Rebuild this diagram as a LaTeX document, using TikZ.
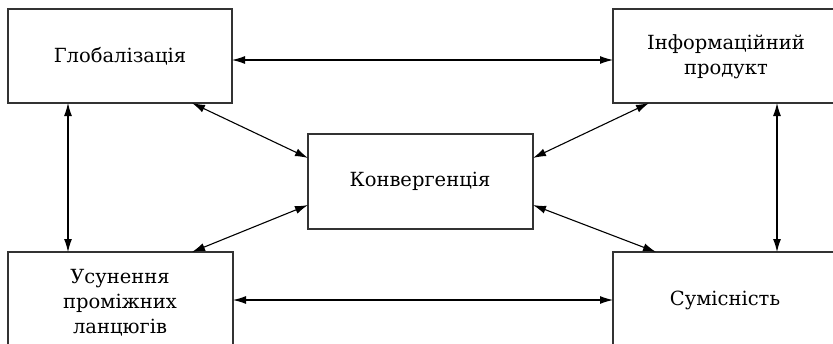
\documentclass[tikz,border=0pt]{standalone}
\usepackage{fontspec}
\setmainfont{DejaVu Serif}
\usetikzlibrary{arrows.meta}
\begin{document}
\begin{tikzpicture}[x=1pt,y=-1pt,
  boxline/.style={line width=1.3pt,draw=black!80},
  conn/.style={{Latex[length=13pt,width=8pt]}-{Latex[length=13pt,width=8pt]},line width=1.1pt},
  lbl/.style={font=\fontsize{19.5}{25}\selectfont,align=center}]
\useasboundingbox (0,0) rectangle (833,343);
\clip (0,0) rectangle (833,343);
\draw[boxline] (8,9) rectangle (232,103);
\node[lbl] (glob) at (120,56) {Глобалізація};
\coordinate (globS) at (192,103);
\coordinate (globE) at (232,60);
\coordinate (globV) at (68,103);
\draw[boxline] (613,9) rectangle (840,103);
\node[lbl] (info) at (726,57) {Інформаційний\\продукт};
\coordinate (infoS) at (649,103);
\coordinate (infoW) at (613,60);
\coordinate (infoV) at (777,103);
\draw[boxline] (8,252) rectangle (233,360);
\node[lbl] (usun) at (120,303) {Усунення\\проміжних\\ланцюгів};
\coordinate (usunN) at (192,252);
\coordinate (usunE) at (233,300);
\coordinate (usunV) at (68,252);
\draw[boxline] (613,252) rectangle (840,360);
\node[lbl] (sum) at (725,300) {Сумісність};
\coordinate (sumN) at (656,252);
\coordinate (sumW) at (613,300);
\coordinate (sumV) at (777,252);
\draw[boxline] (308,134) rectangle (533,229);
\node[lbl] (konv) at (420,181) {Конвергенція};
\coordinate (konvWN) at (308,158);
\coordinate (konvWS) at (308,205);
\coordinate (konvEN) at (533,158);
\coordinate (konvES) at (533,205);
\draw[conn] (globE) -- (infoW);
\draw[conn] (usunE) -- (sumW);
\draw[conn] (globV) -- (usunV);
\draw[conn] (infoV) -- (sumV);
\draw[conn] (globS) -- (konvWN);
\draw[conn] (konvWS) -- (usunN);
\draw[conn] (infoS) -- (konvEN);
\draw[conn] (konvES) -- (sumN);
\end{tikzpicture}
\end{document}
